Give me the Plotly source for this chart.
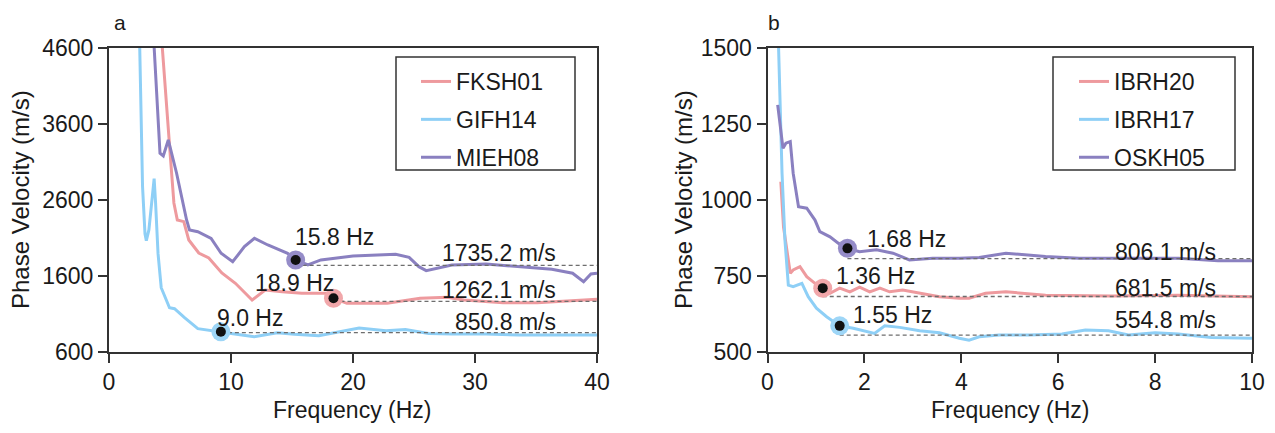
import plotly.graph_objects as go

# ---------------- data: panel a ----------------
stations_a = ["FKSH01", "GIFH14", "MIEH08"]
f_fksh01 = [4.3, 4.77, 5.05, 5.32, 5.6, 6.13, 6.54, 7.36, 8.18, 9.25, 10.36, 11.73, 12.8, 14.2, 15.8, 18.0, 18.4,
            19.5, 22.8, 25.5, 27.7, 29.1, 32.3, 35.1, 40]
v_fksh01 = [4750, 3648, 3123, 2557, 2333, 2311, 2070, 1899, 1833, 1636, 1500, 1280, 1412, 1390, 1368, 1368, 1303,
            1237, 1237, 1303, 1316, 1280, 1245, 1245, 1290]
f_gifh14 = [2.5, 2.62, 2.75, 2.95, 3.06, 3.27, 3.55, 3.7, 3.82, 4.02, 4.28, 4.96, 5.37, 6.19, 7.28, 8.32, 9.17,
            10.3, 11.9, 13.8, 15.2, 17.2, 20.5, 22.7, 24.3, 26.2, 28.1, 30.9, 33.6, 36.3, 40]
v_gifh14 = [4750, 3648, 2771, 2150, 2061, 2202, 2600, 2877, 2553, 1890, 1442, 1179, 1166, 1047, 903, 876, 863,
            833, 797, 850, 830, 810, 912, 876, 893, 841, 833, 833, 820, 823, 820]
f_mieh08 = [3.65, 4.18, 4.45, 4.86, 5.54, 6.36, 6.6, 7.28, 8.37, 9.19, 10.14, 11.1, 11.92, 13.02, 14.64, 15.3,
            16.3, 17.37, 20.0, 23.5, 24.6, 25.4, 26.0, 28.1, 30.9, 33.6, 36.3, 38.0, 38.9, 39.5, 40]
v_mieh08 = [4750, 3211, 3175, 3386, 2948, 2333, 2202, 2179, 2092, 1895, 1784, 1982, 2092, 2004, 1895, 1807,
            1741, 1807, 1859, 1882, 1842, 1719, 1666, 1741, 1754, 1719, 1684, 1632, 1521, 1622, 1632]
fpick_a = [18.4, 9.17, 15.3]          # marker frequencies (as drawn)
vpick_a = [1303, 863, 1807]           # marker velocities (as drawn)
freq_label_a = ["18.9 Hz", "9.0 Hz", "15.8 Hz"]
vs_a = [1262.1, 850.8, 1735.2]
vs_label_a = ["1262.1 m/s", "850.8 m/s", "1735.2 m/s"]

# ---------------- data: panel b ----------------
stations_b = ["IBRH20", "IBRH17", "OSKH05"]
f_ibrh20 = [0.275, 0.33, 0.47, 0.53, 0.67, 0.81, 0.98, 1.14, 1.29, 1.49, 1.7, 1.9, 2.11, 2.32, 2.52, 2.79, 3.14,
            3.55, 3.96, 4.16, 4.5, 4.92, 5.74, 7.1, 8.48, 10]
v_ibrh20 = [1059, 911, 758, 769, 780, 747, 725, 709, 692, 709, 697, 712, 697, 709, 697, 703, 692,
            681, 676, 676, 692, 697, 686, 683, 686, 681]
f_ibrh17 = [0.22, 0.26, 0.3, 0.36, 0.43, 0.53, 0.71, 0.84, 1.01, 1.22, 1.49, 1.77, 2.21, 2.42, 2.73, 3.14, 3.55,
            3.96, 4.16, 4.37, 4.78, 5.4, 6.08, 6.56, 7.04, 7.45, 8.0, 8.48, 9.16, 10]
v_ibrh17 = [1550, 1306, 1087, 867, 719, 714, 725, 681, 643, 615, 585, 577, 560, 585, 580, 569, 562,
            544, 538, 549, 555, 555, 558, 571, 569, 555, 562, 558, 547, 544]
f_oskh05 = [0.21, 0.26, 0.32, 0.38, 0.47, 0.53, 0.64, 0.81, 0.98, 1.08, 1.29, 1.46, 1.65, 1.9, 2.25, 2.59, 2.93,
            3.41, 3.96, 4.37, 4.92, 5.74, 6.43, 7.45, 8.48, 9.3, 10]
v_oskh05 = [1312, 1251, 1169, 1186, 1191, 1087, 977, 972, 933, 895, 878, 857, 840, 829, 835, 824, 802,
            807, 807, 810, 824, 813, 807, 807, 807, 799, 799]
fpick_b = [1.14, 1.49, 1.65]
vpick_b = [709, 585, 840]
freq_label_b = ["1.36 Hz", "1.55 Hz", "1.68 Hz"]
vs_b = [681.5, 554.8, 806.1]
vs_label_b = ["681.5 m/s", "554.8 m/s", "806.1 m/s"]

colors = ["#EE9A9E", "#8ECFF6", "#8A80C0"]
halo = ["#F1A7AA", "#9ED6F7", "#958CC8"]

FONT = "Liberation Sans, Arial, sans-serif"
FS = 23
# page is offset by the default 8px body margin; size figure to fill the rest
OFF = 8
W, H = 1275 - OFF, 433 - OFF


def px(x):   # page x pixel -> paper fraction
    return (x - OFF) / W


def py(y):   # page y pixel -> paper fraction
    return (433 - y) / H


fig = go.Figure()

curves_a = [(f_fksh01, v_fksh01), (f_gifh14, v_gifh14), (f_mieh08, v_mieh08)]
curves_b = [(f_ibrh20, v_ibrh20), (f_ibrh17, v_ibrh17), (f_oskh05, v_oskh05)]


def add_panel(curves, names, fp, vp, vs, xmax, xa, ya, legend):
    for i, ((fx, vy), name) in enumerate(zip(curves, names)):
        fig.add_trace(go.Scatter(x=fx, y=vy, mode="lines", name=name,
                                 line=dict(color=colors[i], width=3),
                                 xaxis=xa, yaxis=ya, legend=legend,
                                 legendgroup=name + legend))
    for i in range(3):
        fig.add_trace(go.Scatter(x=[fp[i], xmax], y=[vs[i], vs[i]], mode="lines",
                                 line=dict(color="#6e6e6e", width=1.3, dash="4px,3px"),
                                 xaxis=xa, yaxis=ya, showlegend=False, hoverinfo="skip"))
    for i in range(3):
        fig.add_trace(go.Scatter(x=[fp[i]], y=[vp[i]], mode="markers",
                                 marker=dict(color=halo[i], size=19),
                                 xaxis=xa, yaxis=ya, showlegend=False, cliponaxis=False))
        fig.add_trace(go.Scatter(x=[fp[i]], y=[vp[i]], mode="markers",
                                 marker=dict(color="#111111", size=10),
                                 xaxis=xa, yaxis=ya, showlegend=False, cliponaxis=False))


add_panel(curves_a, stations_a, fpick_a, vpick_a, vs_a, 40, "x", "y", "legend")
add_panel(curves_b, stations_b, fpick_b, vpick_b, vs_b, 10, "x2", "y2", "legend2")

ydom = [py(351.7), py(47.7)]
axis_common = dict(showline=True, mirror=True, linecolor="#333333", linewidth=2,
                   ticks="outside", ticklen=9, tickwidth=2, tickcolor="#333333",
                   showgrid=False, zeroline=False, automargin=False,
                   tickfont=dict(family=FONT, size=FS, color="#1a1a1a"))

legend_common = dict(yanchor="top", xanchor="left",
                     borderwidth=0, bgcolor="rgba(0,0,0,0)",
                     tracegroupgap=5, traceorder="grouped",
                     font=dict(family=FONT, size=FS, color="#1a1a1a"))

fig.update_layout(
    width=W, height=H, margin=dict(l=0, r=0, t=0, b=0, pad=0, autoexpand=False),
    paper_bgcolor="white", plot_bgcolor="white",
    font=dict(family=FONT, size=FS, color="#1a1a1a"),
    xaxis=dict(domain=[px(109), px(597)], range=[0, 40], tickvals=[0, 10, 20, 30, 40], anchor="y", **axis_common),
    yaxis=dict(domain=ydom, range=[600, 4600], tickvals=[600, 1600, 2600, 3600, 4600], anchor="x", **axis_common),
    xaxis2=dict(domain=[px(767.5), px(1252)], range=[0, 10], tickvals=[0, 2, 4, 6, 8, 10], anchor="y2",
                **axis_common),
    yaxis2=dict(domain=ydom, range=[500, 1500], tickvals=[500, 750, 1000, 1250, 1500], anchor="x2", **axis_common),
    legend=dict(x=px(416), y=py(60), **legend_common),
    legend2=dict(x=px(1074), y=py(60), **legend_common),
    showlegend=True,
    shapes=[
        dict(type="rect", xref="paper", yref="paper", x0=px(396), x1=px(575), y0=py(170), y1=py(57),
             line=dict(color="#333333", width=1.5), fillcolor="white", layer="below"),
        dict(type="rect", xref="paper", yref="paper", x0=px(1053), x1=px(1235), y0=py(170), y1=py(57),
             line=dict(color="#333333", width=1.5), fillcolor="white", layer="below"),
    ],
)

ann = []
# panel letters
for t, xc in [("a", 120), ("b", 774)]:
    ann.append(dict(text=t, x=px(xc), y=py(9), xref="paper", yref="paper", showarrow=False,
                    xanchor="center", yanchor="top", font=dict(size=21)))
# axis titles
for xc in [352, 1010]:
    ann.append(dict(text="Frequency (Hz)", x=px(xc), y=py(410), xref="paper", yref="paper", showarrow=False,
                    xanchor="center", yanchor="middle"))
for xc in [20, 683]:
    ann.append(dict(text="Phase Velocity (m/s)", x=px(xc), y=py(200), xref="paper", yref="paper",
                    showarrow=False, textangle=-90, xanchor="center", yanchor="middle", font=dict(size=24)))

# frequency labels panel a
pos_fa = [(11.8, 1504), (8.7, 1043), (15.1, 2109)]
for (x, y), t in zip(pos_fa, freq_label_a):
    ann.append(dict(text=t, x=x, y=y, xref="x", yref="y", showarrow=False, xanchor="left", yanchor="middle"))
pos_va = [1413, 991, 1899]
for y, t in zip(pos_va, vs_label_a):
    ann.append(dict(text=t, x=36.8, y=y, xref="x", yref="y", showarrow=False, xanchor="right", yanchor="middle"))
# panel b labels
pos_fb = [(1.38, 749), (1.73, 621), (2.01, 870)]
for (x, y), t in zip(pos_fb, freq_label_b):
    ann.append(dict(text=t, x=x, y=y, xref="x2", yref="y2", showarrow=False, xanchor="left", yanchor="middle"))
pos_vb = [709, 604, 829]
for y, t in zip(pos_vb, vs_label_b):
    ann.append(dict(text=t, x=9.3, y=y, xref="x2", yref="y2", showarrow=False, xanchor="right", yanchor="middle"))

fig.update_layout(annotations=ann)
fig.write_html("out.html")
